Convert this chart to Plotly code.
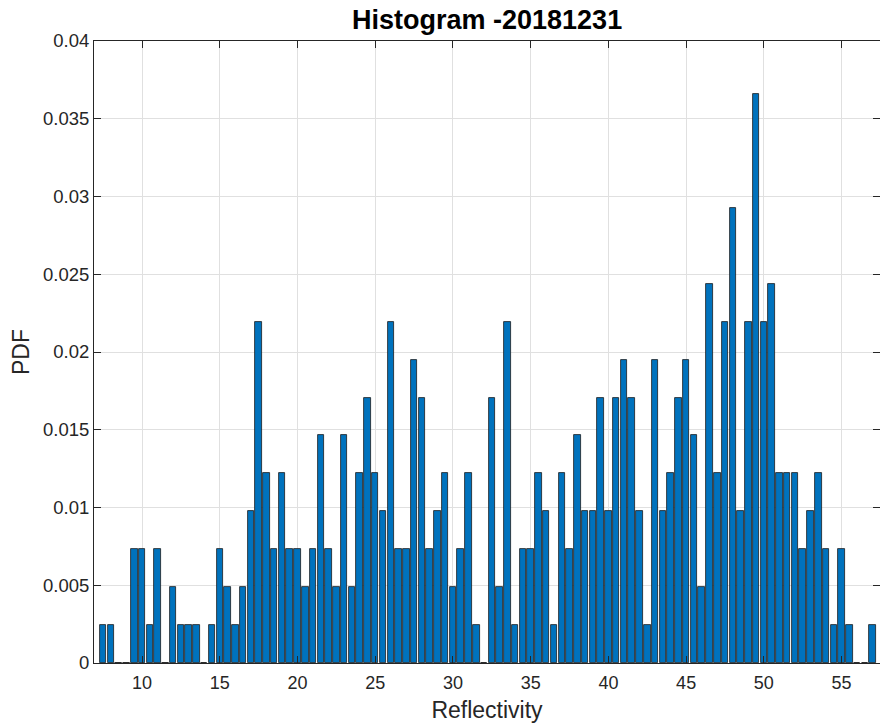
import plotly.graph_objects as go

# Bin centres of the reflectivity histogram (bin width 0.5)
bin_centers = [
    7.5, 8.0, 8.5, 9.0, 9.5, 10.0, 10.5, 11.0, 11.5, 12.0,
    12.5, 13.0, 13.5, 14.0, 14.5, 15.0, 15.5, 16.0, 16.5, 17.0,
    17.5, 18.0, 18.5, 19.0, 19.5, 20.0, 20.5, 21.0, 21.5, 22.0,
    22.5, 23.0, 23.5, 24.0, 24.5, 25.0, 25.5, 26.0, 26.5, 27.0,
    27.5, 28.0, 28.5, 29.0, 29.5, 30.0, 30.5, 31.0, 31.5, 32.0,
    32.5, 33.0, 33.5, 34.0, 34.5, 35.0, 35.5, 36.0, 36.5, 37.0,
    37.5, 38.0, 38.5, 39.0, 39.5, 40.0, 40.5, 41.0, 41.5, 42.0,
    42.5, 43.0, 43.5, 44.0, 44.5, 45.0, 45.5, 46.0, 46.5, 47.0,
    47.5, 48.0, 48.5, 49.0, 49.5, 50.0, 50.5, 51.0, 51.5, 52.0,
    52.5, 53.0, 53.5, 54.0, 54.5, 55.0, 55.5, 56.0, 56.5, 57.0,
]

# Sample counts per bin
bin_counts = [
    1, 1, 0, 0, 3, 3, 1, 3, 0, 2,
    1, 1, 1, 0, 1, 3, 2, 1, 2, 4,
    9, 5, 3, 5, 3, 3, 2, 3, 6, 3,
    2, 6, 2, 5, 7, 5, 4, 9, 3, 3,
    8, 7, 3, 4, 5, 2, 3, 5, 1, 0,
    7, 2, 9, 1, 3, 3, 5, 4, 1, 5,
    3, 6, 4, 4, 7, 4, 7, 8, 7, 4,
    1, 8, 4, 5, 7, 8, 6, 2, 10, 5,
    9, 12, 4, 9, 15, 9, 10, 5, 5, 5,
    3, 4, 5, 3, 1, 3, 1, 0, 0, 1,
]

total = sum(bin_counts)
pdf_values = [c / total for c in bin_counts]

x_ticks = [10, 15, 20, 25, 30, 35, 40, 45, 50, 55]
y_ticks = [0, 0.005, 0.01, 0.015, 0.02, 0.025, 0.03, 0.035, 0.04]
y_tick_labels = ["0", "0.005", "0.01", "0.015", "0.02", "0.025", "0.03", "0.035", "0.04"]

X_RANGE = [6.91, 57.47]
Y_RANGE = [0, 0.04]

AX_COLOR = "#262626"
GRID_COLOR = "#e0e0e0"
FONT = "Liberation Sans, Arial, Helvetica, sans-serif"

fig = go.Figure()
fig.add_trace(go.Bar(
    x=bin_centers,
    y=pdf_values,
    width=0.42,
    marker=dict(color="#0072BD", line=dict(color="#1a1a1a", width=0.8)),
    showlegend=False,
    hoverinfo="x+y",
))

# invisible helper trace so the right-hand tick axis is drawn
fig.add_trace(go.Scatter(x=[X_RANGE[0]], y=[0], yaxis="y2", mode="markers",
                         marker=dict(opacity=0), showlegend=False, hoverinfo="skip"))

fig.update_layout(
    width=880,
    height=723,
    margin=dict(l=94, r=0, t=41, b=60),
    paper_bgcolor="white",
    plot_bgcolor="white",
    font=dict(family=FONT, color=AX_COLOR, size=18),
    title=dict(
        text="<b>Histogram -20181231</b>",
        x=0.5535, xanchor="center", xref="container",
        y=1 - 20 / 723, yanchor="middle", yref="container",
        font=dict(family=FONT, size=27, color="#000000"),
    ),
    bargap=0,
    xaxis=dict(
        range=X_RANGE,
        tickvals=x_ticks,
        ticks="inside", ticklen=7, tickcolor=AX_COLOR, tickwidth=1,
        showline=True, linecolor=AX_COLOR, linewidth=1, mirror="ticks",
        showgrid=True, gridcolor=GRID_COLOR, gridwidth=1,
        zeroline=False,
        ticklabelstandoff=3,
        tickfont=dict(size=18, color=AX_COLOR),
        title=dict(text="Reflectivity", font=dict(size=23, color=AX_COLOR), standoff=11),
    ),
    yaxis=dict(
        range=Y_RANGE,
        tickvals=y_ticks, ticktext=y_tick_labels,
        ticks="inside", ticklen=7, tickcolor=AX_COLOR, tickwidth=1,
        showline=True, linecolor=AX_COLOR, linewidth=1, mirror=False,
        showgrid=True, gridcolor=GRID_COLOR, gridwidth=1,
        zeroline=False,
        tickfont=dict(size=18.5, color=AX_COLOR),
        title=dict(text="PDF", font=dict(size=23, color=AX_COLOR), standoff=6),
    ),
    yaxis2=dict(
        range=Y_RANGE,
        overlaying="y", side="right", anchor="x",
        tickvals=y_ticks,
        showticklabels=False,
        ticks="inside", ticklen=7, tickcolor=AX_COLOR,
        showline=False, showgrid=False, zeroline=False,
    ),
)

fig.write_html("out.html")
